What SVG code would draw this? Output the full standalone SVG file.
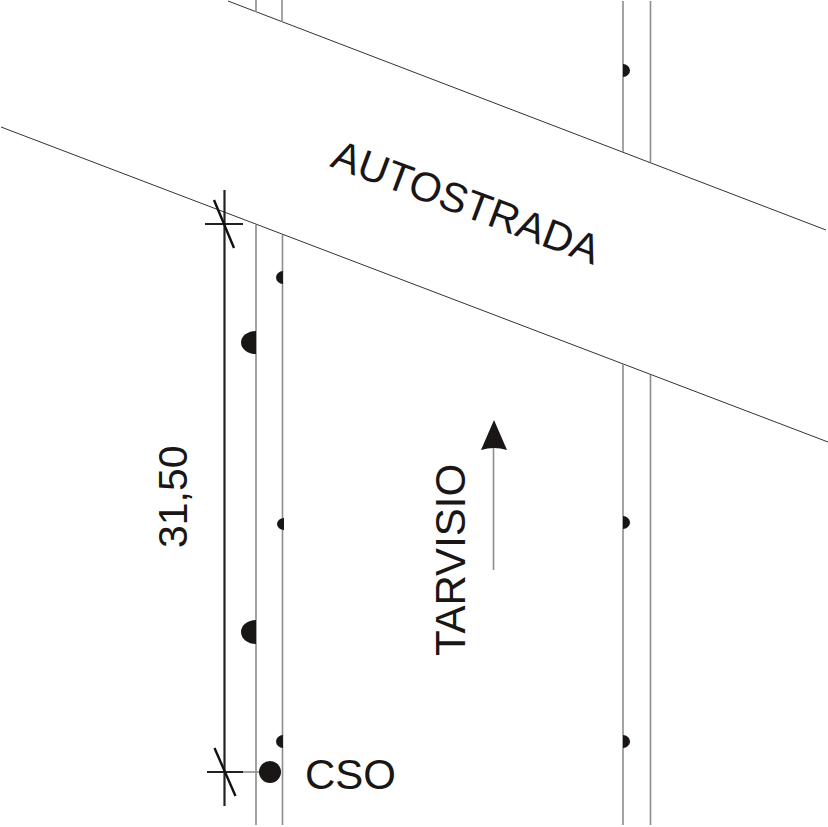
<svg xmlns="http://www.w3.org/2000/svg" width="828" height="827" viewBox="0 0 828 827">
<style>
.road{stroke:#333;stroke-width:1;fill:none}
.edge{stroke:#8c8c8c;stroke-width:1.6;fill:none}
.dim{stroke:#222;stroke-width:2.2;fill:none}
.tick{stroke:#111;stroke-width:2.4;fill:none}
.mark{fill:#1a1616}
text{font-family:"Liberation Sans",Arial,sans-serif;fill:#1a1616;font-size:42px}
</style>
<rect width="828" height="827" fill="#fff"/>
<g id="connectors">
<path class="road" d="M228 1L826 230"/>
<path class="road" d="M1 127L828 442"/>
<path class="edge" d="M256 0V12M282 0V22M623 1V152M650.500 1V162"/>
<path class="edge" d="M256 225V825M282.500 235V825M623 364V825M650.500 375V825"/>
<path class="edge" d="M493.500 448V570"/>
<path class="edge" d="M243 772H262"/>
</g>
<g id="dimension">
<path class="dim" d="M224.500 190V806"/>
<path class="dim" d="M205 224H243M207 772H243"/>
<path class="tick" d="M214 200L234 248M214.500 748L235.500 796"/>
<text transform="translate(187 548) rotate(-90)" style="font-size:41px">31,50</text>
</g>
<g id="road-autostrada">
<text transform="translate(329 166) rotate(20.500)" style="font-size:41.400px">AUTOSTRADA</text>
</g>
<g id="direction-tarvisio">
<path class="mark" d="M494 420L507 450Q494 446 481 450Z"/>
<text transform="translate(465 656) rotate(-90)">TARVISIO</text>
</g>
<g id="node-cso">
<circle class="mark" cx="270" cy="772" r="11"/>
<text x="305" y="789">CSO</text>
</g>
<g id="markers">
<path class="mark" d="M256 331A15 11.500 0 0 0 256 354Z"/>
<path class="mark" d="M256 620A15 12 0 0 0 256 644Z"/>
<path class="mark" d="M283 271A7 6.500 0 0 0 283 284Z"/>
<path class="mark" d="M284 518A7 6 0 0 0 284 530Z"/>
<path class="mark" d="M283 735A7 6.500 0 0 0 283 748Z"/>
<path class="mark" d="M623 64A7 6.500 0 0 1 623 77Z"/>
<path class="mark" d="M623 516A7 6.500 0 0 1 623 529Z"/>
<path class="mark" d="M623 735A7 6.500 0 0 1 623 748Z"/>
</g>
</svg>
